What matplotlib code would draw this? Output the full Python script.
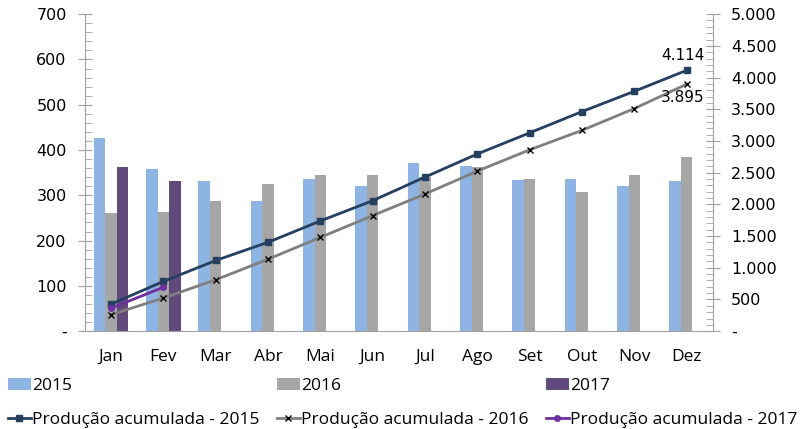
import numpy as np
import matplotlib
matplotlib.use("Agg")
import matplotlib.pyplot as plt
from matplotlib.ticker import MultipleLocator, FuncFormatter

months = ['Jan', 'Fev', 'Mar', 'Abr', 'Mai', 'Jun', 'Jul', 'Ago', 'Set', 'Out', 'Nov', 'Dez']
prod_2015 = [426, 358, 331, 287, 336, 320, 372, 365, 333, 335, 320, 331]
prod_2016 = [260, 263, 287, 325, 344, 344, 340, 362, 335, 307, 344, 384]
prod_2017 = [362, 331]
acum_2015 = [426, 784, 1115, 1402, 1738, 2058, 2430, 2795, 3128, 3463, 3783, 4114]
acum_2016 = [260, 523, 810, 1135, 1479, 1823, 2163, 2525, 2860, 3167, 3511, 3895]
acum_2017 = [362, 693]

c15, c16, c17 = '#8DB4E2', '#A6A6A6', '#604A7B'
txt_font = ['Open Sans', 'DejaVu Sans']

fig = plt.figure(figsize=(8, 4.29), dpi=100)
ax = fig.add_axes([0.106, 0.228, 0.785, 0.739])
ax2 = ax.twinx()

x = np.arange(len(months))
w = 0.22
b1 = ax.bar(x - w, prod_2015, w, color=c15, label='2015', zorder=2)
b2 = ax.bar(x, prod_2016, w, color=c16, label='2016', zorder=2)
b3 = ax.bar(x[:len(prod_2017)] + w, prod_2017, w, color=c17, label='2017', zorder=2)

l1, = ax2.plot(x, acum_2015, color='#243F60', lw=2, marker='s', ms=4,
               label='Produção acumulada - 2015')
l2, = ax2.plot(x, acum_2016, color='#7F7F7F', lw=2, marker='x', ms=4,
               mec='black', mew=1, label='Produção acumulada - 2016')
l3, = ax2.plot(x[:len(acum_2017)], acum_2017, color='#7030A0', lw=2, marker='o', ms=4,
               label='Produção acumulada - 2017')

ax2.annotate('4.114', (x[-1], acum_2015[-1]), xytext=(-3, 5), textcoords='offset points',
             ha='center', va='bottom', fontsize=11)
ax2.annotate('3.895', (x[-1], acum_2016[-1]), xytext=(-3, -4), textcoords='offset points',
             ha='center', va='top', fontsize=11)

ax.set_xlim(-0.5, len(months) - 0.5)
ax.set_ylim(0, 700)
ax2.set_ylim(0, 5000)

def fmt(v, pos):
    if v == 0:
        return '-'
    return f'{v:,.0f}'.replace(',', '.')

ax.yaxis.set_major_locator(MultipleLocator(100))
ax.yaxis.set_minor_locator(MultipleLocator(20))
ax.yaxis.set_major_formatter(FuncFormatter(fmt))
ax2.yaxis.set_major_locator(MultipleLocator(500))
ax2.yaxis.set_minor_locator(MultipleLocator(100))
ax2.yaxis.set_major_formatter(FuncFormatter(fmt))

ax.set_xticks(x)
ax.set_xticklabels(months, family=txt_font, fontsize=12.5)
ax.tick_params(axis='x', length=0, pad=13)
ax.tick_params(axis='y', which='major', direction='inout', length=10, color='#A0A0A0', labelsize=11.5, pad=8)
ax.tick_params(axis='y', which='minor', direction='in', length=5, color='#A0A0A0')
ax2.tick_params(axis='y', which='major', direction='inout', length=10, color='#A0A0A0', labelsize=11.5, pad=8)
ax2.tick_params(axis='y', which='minor', direction='in', length=5, color='#A0A0A0')

for a in (ax, ax2):
    a.spines['top'].set_visible(False)
    for s in ('left', 'right', 'bottom'):
        a.spines[s].set_color('#A0A0A0')
ax.spines['right'].set_visible(False)
ax2.spines['left'].set_visible(False)
ax2.spines['bottom'].set_visible(False)

# legend laid out as an Excel-style grid: 3 columns, 2 rows
leg_font = {'family': txt_font, 'size': 12.5}
col_px = [8, 277, 546]
row_px = [386, 420]
rows = [([b1, b2, b3], ['2015', '2016', '2017']),
        ([l1, l2, l3], [l1.get_label(), l2.get_label(), l3.get_label()])]
for (handles, labels), ry in zip(rows, row_px):
    for hnd, lbl, cx in zip(handles, labels, col_px):
        fig.legend([hnd], [lbl], loc='center left', bbox_to_anchor=(cx / 800, 1 - ry / 429),
                   frameon=False, prop=leg_font, handlelength=1.3, handleheight=0.7,
                   handletextpad=0.1, borderaxespad=0, borderpad=0)

fig.savefig('out.png', dpi=100)
